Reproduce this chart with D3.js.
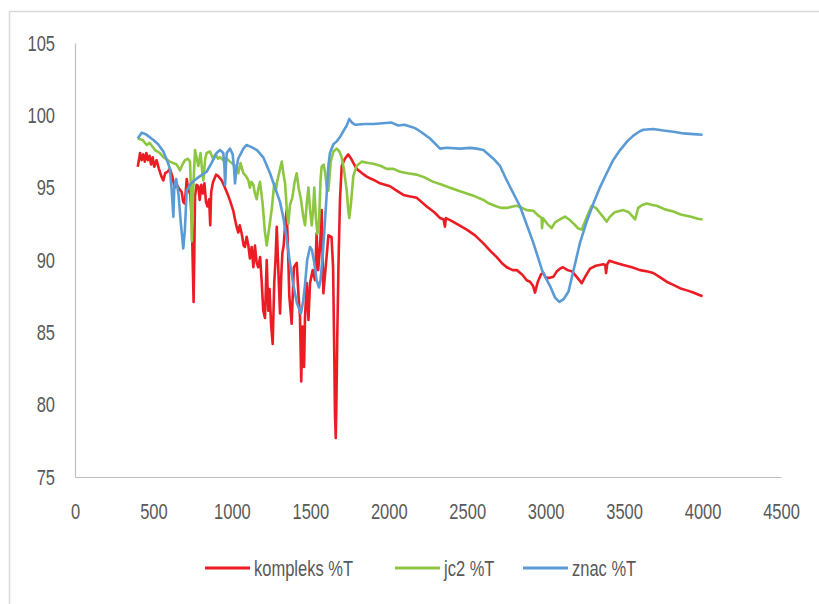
<!DOCTYPE html>
<html>
<head>
<meta charset="utf-8">
<script src="https://cdn.jsdelivr.net/npm/d3@7"></script>
<style>
  html, body { margin: 0; padding: 0; background: #fff; }
  svg { display: block; }
  text { font-family: "Liberation Sans", Arial, sans-serif; fill: #595959; }
</style>
</head>
<body>
<svg id="chart" width="819" height="604"></svg>
<script>
// IR transmittance spectra, [wavenumber cm-1, %T]
const kompleks = [
  [400,96.45],[415,97.4],[425,96.9],[435,97.3],[445,96.8],[455,97.4],[465,96.9],[475,97.2],[485,96.6],[495,97.1],
  [505,96.45],[520,96.9],[535,96.3],[550,95.8],[563,95.5],[575,96.0],[590,96.1],[605,96.3],[620,95.8],[635,95.0],
  [650,95.2],[665,94.9],[680,94.7],[690,94.0],[700,93.9],[712,95.6],[720,95.0],[735,94.5],[745,92.5],[752,89.0],
  [756,87.1],[760,90.0],[765,94.4],[775,95.2],[786,95.1],[795,94.15],[805,95.2],[815,94.6],[825,95.3],[835,94.0],
  [845,93.7],[855,94.2],[862,92.4],[868,94.7],[880,95.4],[899,95.9],[913,95.8],[935,95.5],[956,95.0],[975,94.5],
  [988,94.1],[1009,93.4],[1020,92.8],[1030,92.3],[1041,91.9],[1050,92.4],[1062,91.85],[1075,91.0],[1083,90.9],[1094,91.6],
  [1105,91.0],[1115,90.1],[1126,90.9],[1137,89.5],[1147,91.0],[1158,89.8],[1168,89.5],[1180,90.2],[1190,88.5],[1200,86.5],
  [1211,86.0],[1222,90.0],[1232,86.5],[1240,88.0],[1250,85.5],[1260,84.2],[1270,88.4],[1278,90.0],[1286,92.3],[1297,89.0],
  [1307,86.3],[1315,89.0],[1322,90.5],[1330,91.0],[1340,92.5],[1349,93.45],[1357,91.0],[1366,87.5],[1381,85.6],[1395,89.5],
  [1413,89.8],[1425,87.5],[1434,86.1],[1442,81.6],[1450,85.4],[1460,82.6],[1466,86.0],[1477,88.4],[1488,85.85],[1498,88.4],
  [1515,89.3],[1530,88.6],[1540,91.85],[1550,89.3],[1562,90.9],[1572,93.45],[1583,87.7],[1598,89.5],[1615,91.7],[1635,91.6],
  [1645,89.5],[1652,84.0],[1657,79.4],[1662,77.7],[1666,80.0],[1672,84.9],[1680,90.0],[1689,94.15],[1700,96.5],[1720,97.0],
  [1742,97.3],[1760,97.0],[1780,96.6],[1795,96.3],[1830,96.0],[1855,95.8],[1880,95.65],[1910,95.5],[1944,95.3],[1975,95.2],
  [2008,95.1],[2050,94.8],[2093,94.5],[2130,94.4],[2178,94.3],[2210,94.0],[2242,93.7],[2290,93.3],[2327,92.9],[2350,92.8],
  [2358,92.3],[2364,92.9],[2400,92.7],[2450,92.4],[2497,92.1],[2550,91.7],[2603,91.15],[2650,90.6],[2688,90.2],[2720,89.8],
  [2752,89.5],[2790,89.3],[2816,89.3],[2850,89.0],[2879,88.6],[2900,88.5],[2920,88.2],[2932,87.75],[2950,88.5],[2970,89.0],
  [2985,89.1],[3000,88.8],[3020,88.75],[3050,88.85],[3070,89.2],[3091,89.4],[3110,89.5],[3140,89.3],[3170,89.2],[3200,88.8],
  [3230,88.4],[3255,88.9],[3283,89.4],[3320,89.6],[3367,89.7],[3380,89.65],[3385,89.1],[3392,89.7],[3406,89.95],[3450,89.8],
  [3495,89.65],[3550,89.5],[3601,89.3],[3650,89.2],[3686,89.1],[3730,88.8],[3771,88.5],[3810,88.3],[3856,88.05],[3900,87.9],
  [3941,87.75],[3975,87.6],[4000,87.5]
];

const jc2 = [
  [400,98.4],[430,98.3],[457,97.95],[475,98.1],[510,97.6],[540,97.4],[563,97.1],[605,96.8],[648,96.6],[669,96.2],
  [685,96.6],[701,96.9],[720,97.0],[733,96.8],[740,94.5],[745,91.3],[752,94.5],[765,97.6],[786,96.5],[800,97.4],
  [812,96.0],[818,95.5],[830,97.0],[839,97.4],[860,97.5],[880,97.0],[895,97.3],[912,97.0],[924,97.1],[945,96.9],
  [967,97.0],[988,96.8],[1010,96.6],[1030,96.45],[1041,96.0],[1055,96.7],[1073,96.0],[1090,95.8],[1105,95.5],[1115,95.0],
  [1125,95.4],[1137,95.2],[1147,94.6],[1158,94.2],[1168,94.9],[1179,95.4],[1195,94.0],[1210,92.0],[1222,91.0],[1235,92.0],
  [1254,93.5],[1270,95.3],[1280,94.8],[1290,95.5],[1305,96.2],[1318,96.8],[1328,96.0],[1339,95.3],[1350,93.5],[1360,92.5],
  [1370,93.8],[1385,94.3],[1400,95.4],[1413,96.0],[1425,95.0],[1440,94.2],[1455,93.0],[1466,92.4],[1478,94.0],[1488,95.0],
  [1498,93.5],[1509,92.4],[1518,93.5],[1525,95.0],[1535,93.0],[1545,91.8],[1555,92.5],[1565,95.5],[1572,96.45],[1585,96.6],
  [1595,96.0],[1605,95.0],[1615,94.8],[1630,96.8],[1647,97.5],[1668,97.7],[1685,97.5],[1700,97.1],[1715,96.2],[1732,94.8],
  [1741,93.5],[1748,92.9],[1758,93.8],[1774,95.8],[1795,96.5],[1827,96.8],[1870,96.7],[1902,96.65],[1950,96.5],[1987,96.3],
  [2030,96.3],[2072,96.1],[2120,96.0],[2178,95.9],[2230,95.7],[2284,95.4],[2340,95.2],[2390,95.0],[2440,94.8],[2497,94.6],
  [2550,94.4],[2603,94.15],[2640,93.9],[2688,93.7],[2720,93.6],[2752,93.6],[2790,93.7],[2816,93.75],[2850,93.6],[2879,93.45],
  [2921,93.4],[2950,93.1],[2974,92.9],[2977,92.2],[2982,92.9],[3010,92.5],[3038,92.2],[3060,92.6],[3090,92.8],[3123,93.0],
  [3150,92.8],[3180,92.5],[3205,92.2],[3230,92.1],[3260,92.9],[3293,93.75],[3320,93.6],[3350,93.2],[3389,92.65],[3410,93.0],
  [3440,93.3],[3495,93.45],[3530,93.3],[3555,93.0],[3570,92.8],[3590,93.6],[3615,93.8],[3644,93.9],[3680,93.8],[3708,93.75],
  [3760,93.5],[3814,93.35],[3860,93.15],[3920,93.0],[3970,92.85],[4000,92.8]
];

const znac = [
  [400,98.4],[425,98.8],[450,98.7],[500,98.3],[530,98.0],[563,97.5],[590,96.8],[605,96.3],[615,95.0],[627,93.0],
  [633,95.1],[645,95.6],[660,94.5],[675,92.5],[690,90.8],[700,92.0],[712,94.8],[733,95.2],[760,95.5],[797,95.8],
  [839,96.1],[870,96.7],[903,97.4],[924,97.6],[945,97.4],[952,96.5],[957,95.2],[962,96.5],[967,97.4],[988,97.7],
  [1005,97.3],[1014,96.3],[1020,95.3],[1028,96.2],[1040,97.0],[1073,97.7],[1094,97.95],[1125,97.8],[1160,97.6],[1200,97.1],
  [1243,96.0],[1275,95.0],[1307,94.0],[1330,92.8],[1349,91.5],[1370,89.8],[1391,88.3],[1415,87.0],[1440,86.3],[1455,87.2],
  [1466,88.3],[1480,90.0],[1498,90.9],[1510,90.7],[1525,89.8],[1540,88.6],[1555,88.1],[1565,88.6],[1580,90.5],[1594,92.8],
  [1604,94.5],[1615,96.5],[1625,97.4],[1647,98.0],[1668,98.2],[1689,98.5],[1710,98.9],[1732,99.3],[1748,99.75],[1765,99.5],
  [1785,99.35],[1850,99.4],[1902,99.4],[1960,99.45],[2018,99.5],[2060,99.3],[2100,99.35],[2146,99.2],[2170,99.1],[2199,98.9],
  [2263,98.4],[2327,97.7],[2369,97.76],[2454,97.7],[2520,97.75],[2560,97.7],[2603,97.6],[2667,97.0],[2709,96.5],[2752,95.5],
  [2837,93.7],[2921,91.2],[2980,89.2],[3028,88.2],[3060,87.4],[3087,87.1],[3115,87.3],[3145,87.8],[3180,89.4],[3219,91.2],
  [3260,92.6],[3304,93.9],[3345,95.0],[3389,96.0],[3430,96.9],[3474,97.6],[3520,98.2],[3559,98.6],[3600,98.9],[3623,99.0],
  [3686,99.05],[3750,98.95],[3814,98.87],[3880,98.75],[3941,98.7],[4000,98.66]
];

const seriesNames = ["kompleks %T", "jc2 %T", "znac %T"];
const seriesColors = ["#ec1c24", "#8dc641", "#5b9bd5"];
const xTicks = [0, 500, 1000, 1500, 2000, 2500, 3000, 3500, 4000, 4500];
const yTicks = [75, 80, 85, 90, 95, 100, 105];

// condensed lettering: glyphs squeezed horizontally
const squeeze = 0.75;
const fontSize = 22;

const svg = d3.select("#chart");

// chart frame (top and left edge)
svg.append("path")
  .attr("d", "M9.5,604 V11.5 H819")
  .attr("fill", "none")
  .attr("stroke", "#d9d9d9")
  .attr("stroke-width", 1.5);

const x = d3.scaleLinear().domain([0, 4500]).range([75, 781]);
const y = d3.scaleLinear().domain([75, 105]).range([477, 43]);

// axes
const xAxis = svg.append("g")
  .attr("transform", `translate(0,${y(75)})`)
  .call(d3.axisBottom(x).tickValues(xTicks).tickSize(0).tickPadding(26).tickFormat(d3.format("d")));
const yAxis = svg.append("g")
  .attr("transform", `translate(${x(0)},0)`)
  .call(d3.axisLeft(y).tickValues(yTicks).tickSize(0).tickPadding(20).tickFormat(d3.format("d")));

[xAxis, yAxis].forEach(g => {
  g.select(".domain").attr("stroke", "#bfbfbf").attr("stroke-width", 1.2);
  g.selectAll(".tick text")
    .attr("font-size", fontSize)
    .attr("fill", "#595959")
    .attr("font-family", "'Liberation Sans', Arial, sans-serif")
    .each(function () {
      const t = d3.select(this);
      const tx = +t.attr("x") || 0;
      t.attr("x", tx / squeeze).attr("transform", `scale(${squeeze},1)`);
    });
});

// spectra
const line = d3.line().x(d => x(d[0])).y(d => y(d[1]));
[kompleks, jc2, znac].forEach((data, i) => {
  svg.append("path")
    .datum(data)
    .attr("fill", "none")
    .attr("stroke", seriesColors[i])
    .attr("stroke-width", 2.6)
    .attr("stroke-linejoin", "round")
    .attr("d", line);
});

// legend
const legendX = [205, 395, 523];
const legend = svg.append("g").attr("transform", "translate(0,568)");
seriesNames.forEach((name, i) => {
  legend.append("line")
    .attr("x1", legendX[i]).attr("x2", legendX[i] + 45)
    .attr("y1", 0).attr("y2", 0)
    .attr("stroke", seriesColors[i]).attr("stroke-width", 3);
  legend.append("text")
    .attr("transform", `translate(${legendX[i] + 49},0) scale(${squeeze},1)`)
    .attr("dy", "0.35em")
    .attr("font-size", fontSize)
    .text(name);
});
</script>
</body>
</html>
